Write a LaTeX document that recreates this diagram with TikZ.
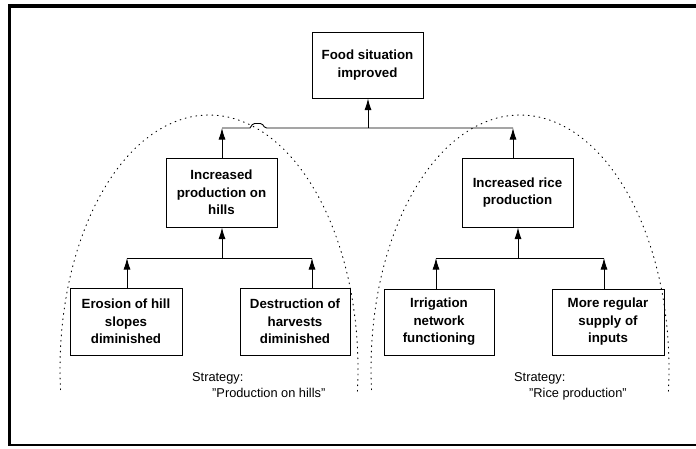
\documentclass[tikz,border=0pt]{standalone}
\usepackage{fontspec}
\setmainfont{Liberation Sans}
\usetikzlibrary{arrows.meta}
\begin{document}
\begin{tikzpicture}[x=1pt,y=-1pt,
  goalbox/.style={draw, line width=1pt, inner sep=0pt, align=center,
    font=\fontsize{13.3}{17.5}\selectfont\bfseries},
  link/.style={line width=0.9pt},
  arr/.style={line width=0.9pt, -{Latex[length=11.5pt,width=7pt]}},
  arch/.style={line width=0.9pt, dash pattern=on 0.9pt off 4.5pt, line cap=round},
  label/.style={inner sep=0pt, anchor=base west, font=\fontsize{12.8}{15}\selectfont},
  frame/.style={line cap=butt}]
\useasboundingbox (0,0) rectangle (696,448);

% outer frame (open on the right)
\draw[frame, line width=4pt] (8,6) -- (696,6);
\draw[frame, line width=3pt] (9.5,4) -- (9.5,446);
\draw[frame, line width=1.8pt] (8,445) -- (696,445);

% strategy arches
\draw[arch] plot[domain=-5:185, samples=140] ({209+149*cos(\x)}, {369-254*sin(\x)});
\draw[arch] plot[domain=-5:185, samples=140] ({520+149*cos(\x)}, {369-254*sin(\x)});

% objectives
\node[goalbox, minimum width=111pt, minimum height=66pt] (top) at (367.5,65) {Food situation\\improved};
\node[goalbox, minimum width=111pt, minimum height=69pt] (hills) at (221.5,192.5) {Increased\\production on\\hills};
\node[goalbox, minimum width=111pt, minimum height=69pt] (rice) at (517.5,192.5) {Increased rice\\production};
\node[goalbox, minimum width=112pt, minimum height=67pt] (eros) at (126,321.5) {Erosion of hill\\slopes\\diminished};
\node[goalbox, minimum width=110pt, minimum height=67pt] (destr) at (295,321.5) {Destruction of\\harvests\\diminished};
\node[goalbox, minimum width=110pt, minimum height=66pt] (irrig) at (439,322) {Irrigation\\network\\functioning};
\node[goalbox, minimum width=112pt, minimum height=66pt] (inputs) at (608,322) {More regular\\supply of\\inputs};

% junction points on the connecting lines
\coordinate (jTop) at (368,128);
\coordinate (jL) at (222,128);
\coordinate (jR) at (513,128);
\coordinate (mL) at (222,258);
\coordinate (mLa) at (127,258);
\coordinate (mLb) at (312,258);
\coordinate (mR) at (518,258);
\coordinate (mRa) at (436,258);
\coordinate (mRb) at (604,258);

% top level: line with a hop over the left arch
\draw[link] (jL) -- (250,128) [rounded corners=1.5pt] -- (253,123.5) -- (262,123.5) -- (265,128) [sharp corners] -- (jR);
\draw[arr] (jTop) -- (top.south -| jTop);
\draw[arr] (hills.north -| jL) -- (jL);
\draw[arr] (rice.north -| jR) -- (jR);

% left strategy
\draw[link] (mLa) -- (mLb);
\draw[arr] (mL) -- (hills.south -| mL);
\draw[arr] (eros.north -| mLa) -- (mLa);
\draw[arr] (destr.north -| mLb) -- (mLb);

% right strategy
\draw[link] (mRa) -- (mRb);
\draw[arr] (mR) -- (rice.south -| mR);
\draw[arr] (irrig.north -| mRa) -- (mRa);
\draw[arr] (inputs.north -| mRb) -- (mRb);

% strategy names
\node[label] (s1) at (192,381.5) {Strategy:};
\node[label] (s1n) at (212,397.5) {"Production on hills"};
\node[label] (s2) at (514,381.5) {Strategy:};
\node[label] (s2n) at (529,397.5) {"Rice production"};
\end{tikzpicture}
\end{document}
